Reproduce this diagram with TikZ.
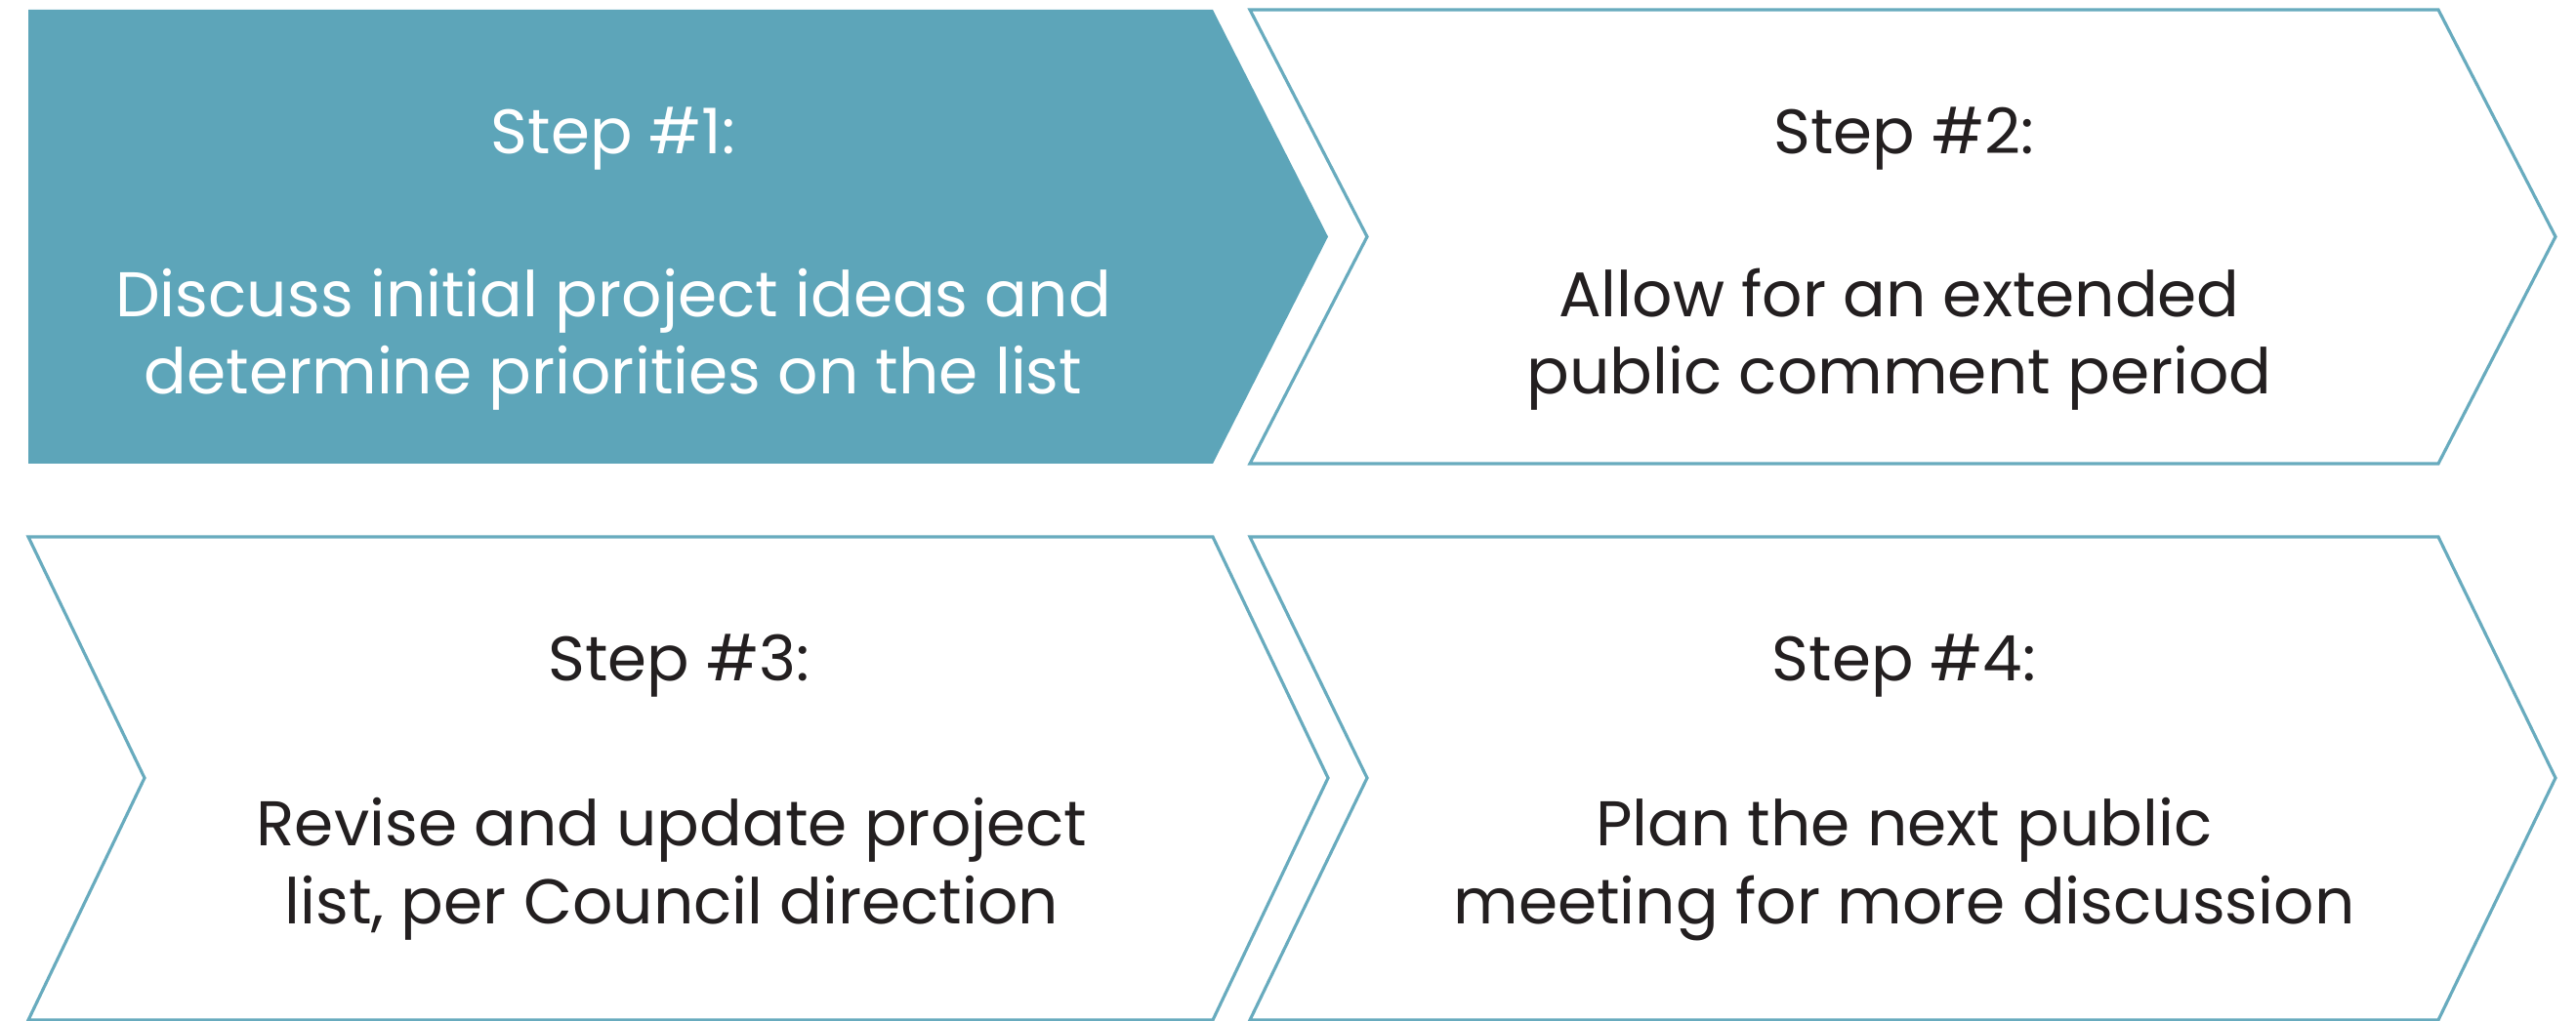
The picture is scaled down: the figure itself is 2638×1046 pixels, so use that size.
\documentclass[tikz,border=0pt]{standalone}
\usepackage{fontspec}
\setmainfont{Poppins}
\definecolor{teal1}{HTML}{5DA5B9}
\definecolor{edge1}{HTML}{68ABBE}
\definecolor{ink}{HTML}{231F20}
\tikzset{
  chev/.style={draw=edge1, line width=0.9pt, fill=white, line join=miter},
  chevfill/.style={fill=teal1, draw=none},
  ttl/.style={anchor=base, font=\fontsize{18.3}{22}\selectfont, text=ink, inner sep=0pt},
  body/.style={anchor=base, font=\fontsize{18.4}{22.6}\selectfont, text=ink, inner sep=0pt, align=center},
}
\begin{document}
\begin{tikzpicture}[x=0.01cm, y=-0.01cm]
\useasboundingbox[fill=white] (0,0) rectangle (2638,1046);
% row 1
\path[chevfill] (29,10) -- (1242,10) -- (1360,242.5) -- (1242,475) -- (29,475) -- cycle;
\path[chev] (1280,10) -- (2497,10) -- (2617,242.5) -- (2497,475) -- (1280,475) -- (1400,242.5) -- cycle;
% row 2
\path[chev] (29,550) -- (1242,550) -- (1360,797) -- (1242,1045) -- (29,1045) -- (148,797) -- cycle;
\path[chev] (1280,550) -- (2497,550) -- (2617,797) -- (2497,1045) -- (1280,1045) -- (1400,797) -- cycle;
% texts (body nodes: base = baseline of last line)
\node[ttl, text=white] (t1) at (628,158) {Step \#1:};
\node[body, text=white] (b1) at (628,404) {Discuss initial project ideas and\\determine priorities on the list};
\node[ttl] (t2) at (1950,158) {Step \#2:};
\node[body] (b2) at (1945,404) {Allow for an extended\\public comment period};
\node[ttl] (t3) at (695,698) {Step \#3:};
\node[body] (b3) at (688,946) {Revise and update project\\list, per Council direction};
\node[ttl] (t4) at (1950,698) {Step \#4:};
\node[body] (b4) at (1950,946) {Plan the next public\\meeting for more discussion};
\end{tikzpicture}
\end{document}
